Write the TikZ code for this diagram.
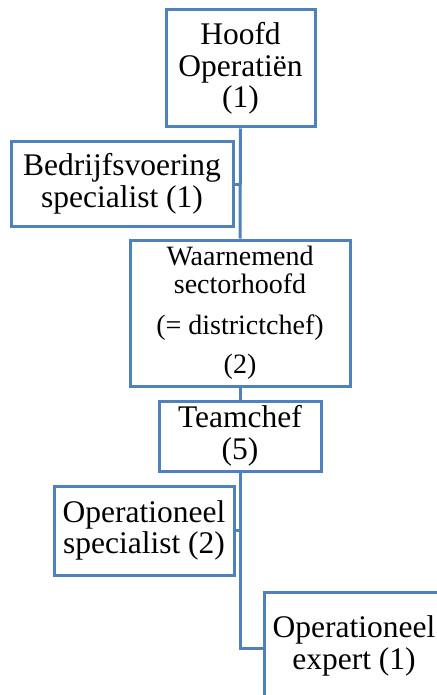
\documentclass[tikz,border=0pt]{standalone}
\usepackage{fontspec}
\setmainfont{Liberation Serif}
\definecolor{orgblue}{RGB}{79,129,189}

\begin{document}
\begin{tikzpicture}[x=1pt,y=-1pt]
\tikzset{box/.style={draw=orgblue, line width=3pt, align=center, inner sep=0pt,
                     font=\fontsize{31.5}{31.5}\selectfont},
         link/.style={draw=orgblue, line width=3pt}}
\useasboundingbox (0,0) rectangle (436,695);
\node[box, minimum width=149pt, minimum height=117pt] (hoofd) at (240.5,68.5)
  {Hoofd\\Operatiën\\(1)};
\node[box, minimum width=222pt, minimum height=84pt] (bedrijf) at (122,184)
  {Bedrijfsvoering\\specialist (1)};
\node[box, minimum width=220pt, minimum height=146pt,
      font=\fontsize{28}{28}\selectfont] (waarn) at (240,313)
  {Waarnemend\\sectorhoofd\\[13pt](= districtchef)\\[11pt](2)};
\node[box, minimum width=162pt, minimum height=70pt] (team) at (240,436)
  {Teamchef\\(5)};
\node[box, minimum width=180pt, minimum height=89pt] (opspec) at (144,530.5)
  {Operationeel\\specialist (2)};
\node[box, minimum width=180pt, minimum height=108pt] (opexp) at (354,646)
  {Operationeel\\expert (1)};
% lijnen
\draw[link] (hoofd.south) -- (waarn.north);
\draw[link] (bedrijf.east) -- (bedrijf.east -| hoofd.south);
\draw[link] (waarn.south) -- (team.north);
\draw[link] (team.south) |- ([yshift=-2pt]opexp.west);
\draw[link] (opspec.east) -- (opspec.east -| team.south);
\end{tikzpicture}
\end{document}
